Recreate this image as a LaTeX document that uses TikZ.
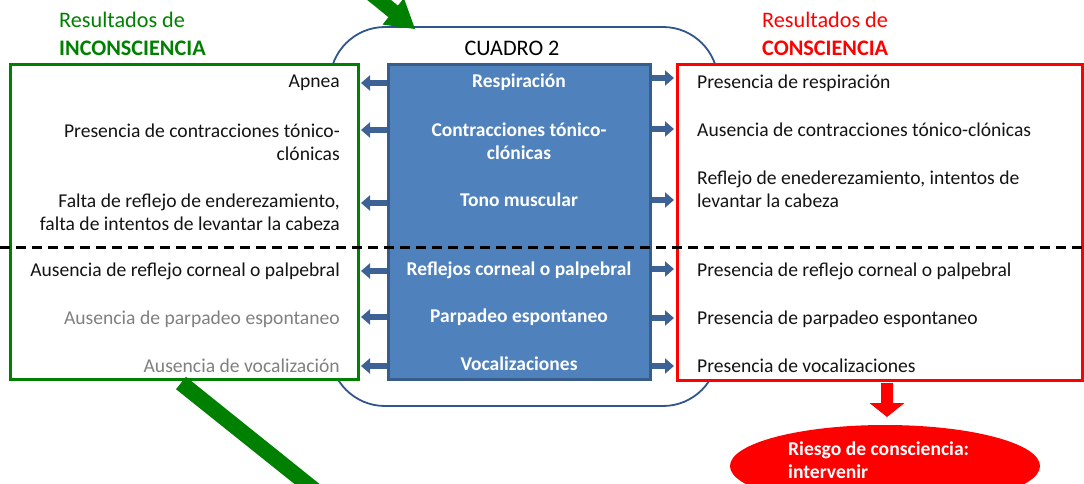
\documentclass[tikz,border=0pt]{standalone}
\usepackage{fontspec}
\setmainfont{Carlito}
\usetikzlibrary{arrows.meta,shapes.geometric,calc}
\definecolor{gGreen}{RGB}{0,128,0}
\definecolor{bFill}{RGB}{79,129,189}
\definecolor{bEdge}{RGB}{56,93,138}
\definecolor{bArrow}{RGB}{61,99,150}
\definecolor{bOuter}{RGB}{47,85,140}
\definecolor{gText}{RGB}{128,128,128}
\definecolor{tText}{RGB}{20,20,20}
\tikzset{
  txt/.style={inner sep=0pt, font=\fontsize{19.6}{23}\selectfont, text=tText},
  ltxt/.style={txt, anchor=east, align=right},
  rtxt/.style={txt, anchor=west, align=left},
  mtxt/.style={inner sep=0pt, font=\fontsize{19.5}{23}\selectfont\bfseries, text=white, align=center},
  ttl/.style={inner sep=0pt, anchor=west, font=\fontsize{22.2}{26}\selectfont},
  barrow/.style={draw=bArrow, line width=6pt, -{Triangle[width=15pt,length=9pt]}},
}
\begin{document}
\begin{tikzpicture}[x=1pt,y=-1pt]
\useasboundingbox (0,0) rectangle (1084,484);
\clip (0,0) rectangle (1084,484);
% outer rounded frame
\node[draw=bOuter, line width=1.8pt, rounded corners=55pt, minimum width=388pt, minimum height=379pt, inner sep=0pt] (outer) at (524,216.5) {};
% boxes
\node[draw=gGreen, fill=white, line width=3pt, minimum width=348pt, minimum height=314pt, inner sep=0pt] (green) at (184,222) {};
\node[draw=red, fill=white, line width=3pt, minimum width=405pt, minimum height=315pt, inner sep=0pt] (red) at (879.5,222.5) {};
\node[draw=bEdge, fill=bFill, line width=3pt, minimum width=262pt, minimum height=314pt, inner sep=0pt] (blue) at (519,222) {};
% titles
\node[ttl, text=gGreen] (tl1) at (59,20) {Resultados de};
\node[ttl, text=gGreen, font=\fontsize{22.2}{26}\selectfont\bfseries] (tl2) at (59,48) {INCONSCIENCIA};
\node[ttl, text=red] (tr1) at (762,20) {Resultados de};
\node[ttl, text=red, font=\fontsize{22.2}{26}\selectfont\bfseries] (tr2) at (762,48) {CONSCIENCIA};
\node[inner sep=0pt, font=\fontsize{22.2}{26}\selectfont, text=black] (cuadro) at (512,48) {CUADRO 2};
% row coordinates
\foreach \n/\yl/\yr in {1/83/78, 2/130/129, 3/203/200, 4/271/269, 5/317/318, 6/366/366}{
  \coordinate (bl\n) at (blue.west |- 0,\yl);
  \coordinate (gl\n) at ($(green.east |- 0,\yl)+(1.5,0)$);
  \coordinate (br\n) at (blue.east |- 0,\yr);
  \coordinate (rr\n) at ($(red.west |- 0,\yr)+(-1.5,0)$);
}
\foreach \n in {1,...,6}{
  \draw[barrow] (bl\n) -- (gl\n);
  \draw[barrow] (br\n) -- (rr\n);
}
% middle texts
\node[mtxt] (m1) at (519,82) {Respiración};
\node[mtxt] (m2) at (519,141.5) {Contracciones tónico-\\clónicas};
\node[mtxt] (m3) at (519,200) {Tono muscular};
\node[mtxt] (m4) at (519,270) {Reflejos corneal o palpebral};
\node[mtxt] (m5) at (519,317) {Parpadeo espontaneo};
\node[mtxt] (m6) at (519,364) {Vocalizaciones};
% left texts
\node[ltxt] (l1) at (340,83) {Apnea};
\node[ltxt] (l2) at (340,142.5) {Presencia de contracciones tónico-\\clónicas};
\node[ltxt] (l3) at (340,212.5) {Falta de reflejo de enderezamiento,\\falta de intentos de levantar la cabeza};
\node[ltxt] (l4) at (340,271) {Ausencia de reflejo corneal o palpebral};
\node[ltxt, text=gText] (l5) at (340,319) {Ausencia de parpadeo espontaneo};
\node[ltxt, text=gText] (l6) at (340,366) {Ausencia de vocalización};
% right texts
\node[rtxt] (r1) at (697,83) {Presencia de respiración};
\node[rtxt] (r2) at (697,130) {Ausencia de contracciones tónico-clónicas};
\node[rtxt] (r3) at (697,189.5) {Reflejo de enederezamiento, intentos de\\levantar la cabeza};
\node[rtxt] (r4) at (697,271) {Presencia de reflejo corneal o palpebral};
\node[rtxt] (r5) at (697,319) {Presencia de parpadeo espontaneo};
\node[rtxt] (r6) at (697,366) {Presencia de vocalizaciones};
% dashed separator
\coordinate (dl) at (0,247);
\coordinate (dr) at (1084,247);
\draw[black, line width=3pt, dash pattern=on 10pt off 6pt] (dl) -- (dr);
% red result ellipse
\node[ellipse, fill=red, minimum width=310pt, minimum height=82pt, inner sep=0pt] (risk) at (885,466) {};
\node[inner sep=0pt, anchor=west, align=left, text=white, font=\fontsize{19.6}{23}\selectfont\bfseries] (risktxt) at (788,460) {Riesgo de consciencia:\\intervenir};
% red down arrow
\coordinate (ra) at (887,383);
\coordinate (rb) at (887,417);
\fill[red] ($(ra)+(-6,0)$) -- ($(ra)+(6,0)$) -- ($(rb)+(6,-14)$) -- ($(rb)+(17.5,-14)$) -- (rb) -- ($(rb)+(-17.5,-14)$) -- ($(rb)+(-6,-14)$) -- cycle;
% big green arrows
\fill[gGreen] (341.9,-20.5) -- (388.5,17.2) -- (382.5,24.6) -- (415,29) -- (403.9,-1.8) -- (397.9,5.6) -- (351.3,-32.1) -- cycle;
\fill[gGreen] (176,389.2) -- (186,376.8) -- (342,502) -- (332,514) -- cycle;
\end{tikzpicture}
\end{document}
